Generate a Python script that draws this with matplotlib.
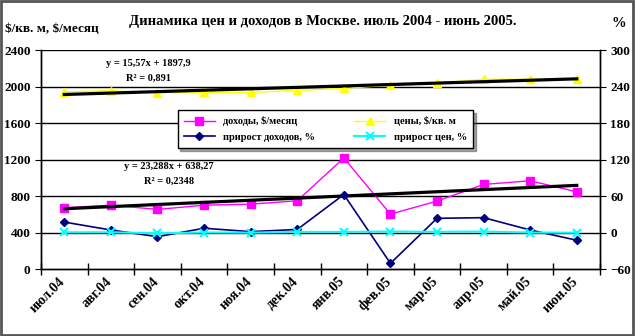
import matplotlib
matplotlib.use("Agg")
import matplotlib.pyplot as plt
import numpy as np

plt.rcParams['font.family'] = ['Liberation Serif', 'DejaVu Serif']
plt.rcParams['font.weight'] = 'bold'
plt.rcParams['text.parse_math'] = False

months = ['июл.04', 'авг.04', 'сен.04', 'окт.04', 'ноя.04', 'дек.04',
          'янв.05', 'фев.05', 'мар.05', 'апр.05', 'май.05', 'июн.05']
incomes = [672, 701, 654, 701, 712, 749, 1218, 603, 745, 928, 968, 847]
prices = [1943, 1954, 1932, 1936, 1936, 1958, 1980, 2016, 2042, 2079, 2082, 2079]
income_growth = [17.3, 4.3, -6.7, 7.2, 1.6, 5.2, 62.6, -50.5, 23.5, 24.6, 4.3, -12.5]
price_growth = [0.5, 0.6, -1.1, 0.2, 0.0, 1.1, 1.1, 1.8, 1.3, 1.8, 0.1, -0.1]

# trend coefficients as shown on the chart
price_trend = (15.57, 1897.9)
income_trend = (23.288, 638.27)

fig = plt.figure(figsize=(6.35, 3.36), dpi=100)
ax = fig.add_axes([0.0646, 0.199, 0.8804, 0.652])
ax2 = ax.twinx()

x = np.arange(len(months))
n = x + 1

# left axis
ax.plot(x, incomes, color='#ff00ff', lw=1, marker='s', ms=6, zorder=4, label='доходы, $/месяц')
ax.plot(x, prices, color='#ffff00', lw=1, marker='^', ms=6, zorder=3, label='цены, $/кв. м')
ax.plot(x, price_trend[0] * n + price_trend[1], color='black', lw=2.3, zorder=5)
ax.plot(x, income_trend[0] * n + income_trend[1], color='black', lw=2.3, zorder=5)

# right axis
l3, = ax2.plot(x, income_growth, color='#000080', lw=1.2, marker='D', ms=4.5, label='прирост доходов, %')
l4, = ax2.plot(x, price_growth, color='#00ffff', lw=1.5, marker='x', ms=6, mew=1.5, label='прирост цен, %')

ax.set_xlim(-0.5, 11.5)
ax.set_ylim(0, 2400)
ax.set_yticks(range(0, 2401, 400))
ax2.set_ylim(-60, 300)
ax2.set_yticks(range(-60, 301, 60))

for yv in range(400, 2401, 400):
    ax.axhline(yv, color='black', lw=1, zorder=1)

ax.set_xticks(np.arange(-0.5, 12, 1))
ax.set_xticklabels([])
ax.set_xticks(x - 0.12, minor=True)
ax.set_xticklabels(months, minor=True, rotation=45, ha='right', rotation_mode='anchor', fontsize=10)
ax.tick_params(axis='x', which='major', direction='inout', length=8, width=1)
ax.tick_params(axis='x', which='minor', length=0, pad=4)
ax.tick_params(axis='y', labelsize=9.5, direction='out', length=4)
ax2.tick_params(axis='y', labelsize=9.5, direction='out', length=4)

for a in (ax, ax2):
    a.spines['top'].set_visible(False)
    for s in a.spines.values():
        s.set_linewidth(1)

h1, lab1 = ax.get_legend_handles_labels()
handles = [h1[0], h1[1], l3, l4]
labels = [lab1[0], lab1[1], l3.get_label(), l4.get_label()]
order = [0, 2, 1, 3]
leg = ax2.legend([handles[i] for i in order], [labels[i] for i in order], ncol=2,
                 loc='upper left', bbox_to_anchor=(0.235, 0.75), fontsize=7.5,
                 frameon=True, fancybox=False, shadow=True, handlelength=3,
                 borderpad=0.6, columnspacing=3.7, labelspacing=0.6)
leg.get_frame().set_edgecolor('black')
leg.get_frame().set_linewidth(1)
leg.set_zorder(10)

ax.text(1.8, 2230, 'y = 15,57x + 1897,9', fontsize=7.5, ha='center')
ax.text(1.8, 2065, 'R² = 0,891', fontsize=7.5, ha='center')
ax.text(2.25, 1100, 'y = 23,288x + 638,27', fontsize=7.5, ha='center')
ax.text(2.25, 935, 'R² = 0,2348', fontsize=7.5, ha='center')

fig.text(0.508, 0.935, 'Динамика цен и доходов в Москве. июль 2004 - июнь 2005.',
         fontsize=10.5, ha='center', va='center')
fig.text(0.008, 0.915, '$/кв. м, $/месяц', fontsize=9.5, ha='left', va='center')
fig.text(0.963, 0.93, '%', fontsize=10.5, ha='left', va='center')

fig.patches.append(plt.Rectangle((0.002, 0.003), 0.995, 0.993, transform=fig.transFigure,
                                 fill=False, edgecolor='#555555', lw=2))

fig.savefig('out.png', dpi=100)
